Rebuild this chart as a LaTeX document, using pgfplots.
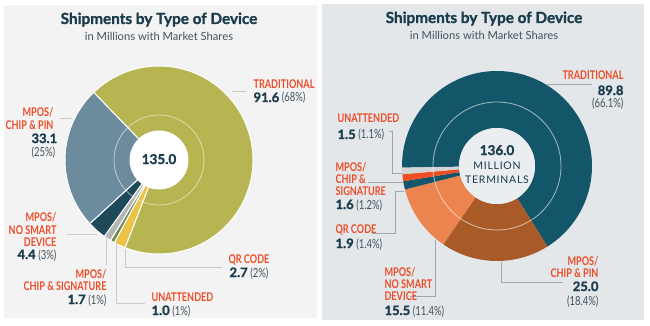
\documentclass[border=0pt]{standalone}
\usepackage{pgfplots}
\pgfplotsset{compat=1.18}
\usepackage{pgfplotstable}
\usetikzlibrary{calc}
\usepackage{fontspec}
\setmainfont{Lato}
\newfontfamily\cond[FakeStretch=0.76]{Lato}
\newfontfamily\heavy[BoldFeatures={FakeBold=1.3}]{Lato}
\newfontfamily\spaced[LetterSpace=7]{Lato}

\definecolor{accent}{HTML}{EE4B26}
\definecolor{ink}{HTML}{1A3C4C}
\definecolor{inkl}{HTML}{41525C}
\definecolor{panelL}{HTML}{F3F3F3}
\definecolor{panelR}{HTML}{E3E7EA}
\definecolor{leadL}{HTML}{CACACA}
\definecolor{leadR}{HTML}{9DA7AE}
\definecolor{lTrad}{HTML}{B6B551}
\definecolor{lPin}{HTML}{6C8B9C}
\definecolor{lNoS}{HTML}{1D4959}
\definecolor{lSig}{HTML}{B5B5B5}
\definecolor{lUna}{HTML}{6E8C55}
\definecolor{lQR}{HTML}{EBC146}
\definecolor{rTrad}{HTML}{145669}
\definecolor{rPin}{HTML}{A85B27}
\definecolor{rNoS}{HTML}{EB844F}
\definecolor{rQR}{HTML}{145669}
\definecolor{rSig}{HTML}{F04D24}
\definecolor{rUna}{HTML}{D2D4D5}

\pgfplotstableread{
name value color
Traditional 91.6 lTrad
QR 2.7 lQR
Unattended 1.0 lUna
ChipSig 1.7 lSig
NoSmart 4.4 lNoS
ChipPin 33.1 lPin
}\lefttable

\pgfplotstableread{
name value color
Traditional 89.8 rTrad
ChipPin 25.0 rPin
NoSmart 15.5 rNoS
QR 1.9 rQR
ChipSig 1.6 rSig
Unattended 1.5 rUna
}\righttable

% #1 table, #2 cx, #3 cy, #4 rout, #5 rin, #6 start angle, #7 total, #8 sep colour, #9 sep width
\newcommand\donut[9]{%
  \xdef\curang{#6}%
  \pgfplotstableforeachcolumnelement{value}\of#1\as\val{%
    \pgfmathsetmacro\sweep{\val/#7*360}%
    \pgfmathsetmacro\endang{\curang-\sweep}%
    \pgfplotstablegetelem{\pgfplotstablerow}{color}\of#1%
    \edef\wedge{\noexpand\fill[\pgfplotsretval, draw=#8, line width=#9]
      (axis cs:#2,#3) ++(\curang:#4pt) arc[start angle=\curang, end angle=\endang, radius=#4pt]
      -- ($(axis cs:#2,#3)+(\endang:#5pt)$) arc[start angle=\endang, end angle=\curang, radius=#5pt] -- cycle;}%
    \wedge
    \xdef\curang{\endang}%
  }%
}

\newcommand\lbl{\cond\bfseries\fontsize{12}{12}\selectfont\color{accent}}
\newcommand\num{\heavy\bfseries\fontsize{13}{13}\selectfont\color{ink}}
\newcommand\pct{\cond\fontsize{12.5}{12.5}\selectfont\color{inkl}}
\newcommand\ttl{\heavy\bfseries\fontsize{15.3}{15.3}\selectfont\color{ink}}
\newcommand\sub{\fontsize{11.2}{11.2}\selectfont\color{inkl}}

\begin{document}
\begin{tikzpicture}
\begin{axis}[
  x=1pt, y=1pt, xmin=0, xmax=650, ymin=0, ymax=326,
  y dir=reverse, hide axis, clip=false,
  every node/.append style={inner sep=0pt, outer sep=0pt},
]
\fill[white] (axis cs:0,0) rectangle (axis cs:650,326);
\fill[panelL] (axis cs:4,5) rectangle (axis cs:317,318);
\fill[panelR] (axis cs:322,4) rectangle (axis cs:644,320);

% ---- left donut
\donut{\lefttable}{159}{160}{94}{29}{134}{134.5}{white}{1pt}
\fill[white] (axis cs:159,160) circle[radius=29pt];
\draw[white, opacity=0.55, line width=0.8pt] (axis cs:159,160) circle[radius=45pt];

% ---- right donut
\donut{\righttable}{497}{166}{95}{38}{181}{135.3}{none}{0pt}
\fill[panelR!70!white] (axis cs:497,166) circle[radius=38pt];
\draw[white, opacity=0.6, line width=0.8pt] (axis cs:497,166) circle[radius=64pt];

% ---- left leaders
\draw[leadL, line width=0.9pt] (axis cs:232,91) -- (axis cs:246,91);
\draw[leadL, line width=0.9pt] (axis cs:60,118) -- (axis cs:72,118);
\draw[leadL, line width=0.9pt] (axis cs:67,234) -- (axis cs:97,234);
\draw[leadL, line width=0.9pt] (axis cs:106,233) -- (axis cs:106,265);
\draw[leadL, line width=0.9pt] (axis cs:116,241) -- (axis cs:116,303) -- (axis cs:145,303);
\draw[leadL, line width=0.9pt] (axis cs:125,250) -- (axis cs:125,267) -- (axis cs:222,267);

% ---- right leaders
\draw[leadR, line width=0.8pt] (axis cs:547,84) -- (axis cs:592,84);
\draw[leadR, line width=0.8pt] (axis cs:389,131) -- (axis cs:392,131) -- (axis cs:392,173) -- (axis cs:402,173);
\draw[leadR, line width=0.8pt] (axis cs:368,182) -- (axis cs:403,182);
\draw[leadR, line width=0.8pt] (axis cs:372,233) -- (axis cs:395,233) -- (axis cs:395,191) -- (axis cs:404,191);
\draw[leadR, line width=0.8pt] (axis cs:410,296) -- (axis cs:435,296) -- (axis cs:435,240);
\draw[leadR, line width=0.8pt] (axis cs:501,262) -- (axis cs:501,282) -- (axis cs:563,282);

% ---- left texts
\node[anchor=base] at (axis cs:159,24) {\ttl Shipments by Type of Device};
\node[anchor=base] at (axis cs:159,41) {\sub in Millions with Market Shares};
\node[anchor=base] at (axis cs:159,164) {\heavy\bfseries\fontsize{13.5}{13.5}\selectfont\color{ink}135.0};

\node[anchor=base west] at (axis cs:250,89) {\lbl TRADITIONAL};
\node[anchor=base west] at (axis cs:250,102) {{\num 91.6} {\pct(68\%)}};

\node[anchor=base east] at (axis cs:57,117) {\lbl MPOS/};
\node[anchor=base east] at (axis cs:57,129) {\lbl CHIP \& PIN};
\node[anchor=base west] at (axis cs:28,143) {\num 33.1};
\node[anchor=base west] at (axis cs:28,157) {\pct(25\%)};

\node[anchor=base east] at (axis cs:60,221) {\lbl MPOS/};
\node[anchor=base east] at (axis cs:60,234) {\lbl NO SMART};
\node[anchor=base east] at (axis cs:60,246) {\lbl DEVICE};
\node[anchor=base east] at (axis cs:60,259) {{\num 4.4} {\pct(3\%)}};

\node[anchor=base east] at (axis cs:110,278) {\lbl MPOS/};
\node[anchor=base east] at (axis cs:110,290) {\lbl CHIP \& SIGNATURE};
\node[anchor=base east] at (axis cs:110,304) {{\num 1.7} {\pct(1\%)}};

\node[anchor=base west] at (axis cs:148,301) {\lbl UNATTENDED};
\node[anchor=base west] at (axis cs:148,315) {{\num 1.0} {\pct(1\%)}};

\node[anchor=base west] at (axis cs:225,263) {\lbl QR CODE};
\node[anchor=base west] at (axis cs:226,277) {{\num 2.7} {\pct(2\%)}};

% ---- right texts
\node[anchor=base] at (axis cs:484,23) {\ttl Shipments by Type of Device};
\node[anchor=base] at (axis cs:484,40) {\sub in Millions with Market Shares};
\node[anchor=base] at (axis cs:497,155) {\heavy\bfseries\fontsize{13.5}{13.5}\selectfont\color{ink}136.0};
\node[anchor=base] at (axis cs:497,169) {\spaced\fontsize{10.5}{10.5}\selectfont\color{ink}MILLION};
\node[anchor=base] at (axis cs:497,183) {\spaced\fontsize{10.5}{10.5}\selectfont\color{ink}TERMINALS};

\node[anchor=base east] at (axis cs:627,80) {\lbl TRADITIONAL};
\node[anchor=base east] at (axis cs:627,95) {\num 89.8};
\node[anchor=base east] at (axis cs:627,108) {\pct(66.1\%)};

\node[anchor=base west] at (axis cs:334,123) {\lbl UNATTENDED};
\node[anchor=base west] at (axis cs:334,139) {{\num 1.5} {\pct(1.1\%)}};

\node[anchor=base west] at (axis cs:332,171) {\lbl MPOS/};
\node[anchor=base west] at (axis cs:332,183) {\lbl CHIP \&};
\node[anchor=base west] at (axis cs:332,195) {\lbl SIGNATURE};
\node[anchor=base west] at (axis cs:332,209) {{\num 1.6} {\pct(1.2\%)}};

\node[anchor=base west] at (axis cs:332,233) {\lbl QR CODE};
\node[anchor=base west] at (axis cs:332,248) {{\num 1.9} {\pct(1.4\%)}};

\node[anchor=base west] at (axis cs:381,276) {\lbl MPOS/};
\node[anchor=base west] at (axis cs:381,288) {\lbl NO SMART};
\node[anchor=base west] at (axis cs:381,300) {\lbl DEVICE};
\node[anchor=base west] at (axis cs:381,315) {{\num 15.5} {\pct(11.4\%)}};

\node[anchor=base east] at (axis cs:602,265) {\lbl MPOS/};
\node[anchor=base east] at (axis cs:602,277) {\lbl CHIP \& PIN};
\node[anchor=base east] at (axis cs:602,291) {\num 25.0};
\node[anchor=base east] at (axis cs:602,305) {\pct(18.4\%)};
\end{axis}
\end{tikzpicture}
\end{document}
